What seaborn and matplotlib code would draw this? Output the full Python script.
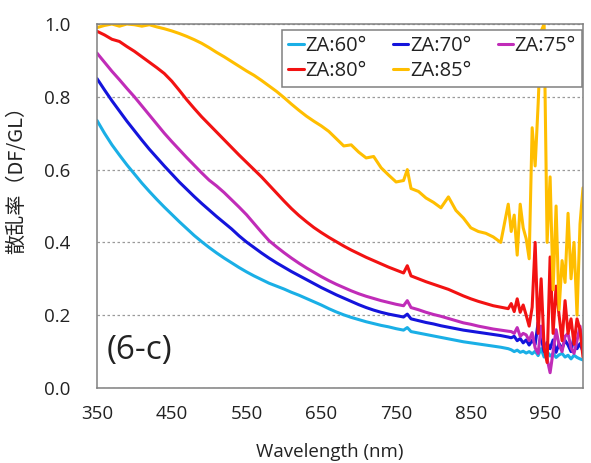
import numpy as np
import pandas as pd
import matplotlib
matplotlib.use("Agg")
import matplotlib.pyplot as plt
import seaborn as sns

# Wavelength grid (nm): 10 nm steps, an extra point at the 765 nm feature, 4 nm steps past 900 nm
wavelength = [350, 360, 370, 380, 390, 400, 410, 420, 430, 440,
              450, 460, 470, 480, 490, 500, 510, 520, 530, 540,
              550, 560, 570, 580, 590, 600, 610, 620, 630, 640,
              650, 660, 670, 680, 690, 700, 710, 720, 730, 740,
              750, 760, 765, 770, 780, 790, 800, 810, 820, 830,
              840, 850, 860, 870, 880, 890, 900,
              904, 908, 912, 916, 920, 924, 928, 932, 936, 940,
              944, 948, 952, 956, 960, 964, 968, 972, 976, 980,
              984, 988, 992, 996, 1000]

series_names = ["ZA:60°", "ZA:70°", "ZA:75°", "ZA:80°", "ZA:85°"]

za60 = [0.735, 0.700, 0.668, 0.640, 0.613, 0.588, 0.563, 0.540, 0.518, 0.497,
        0.477, 0.457, 0.438, 0.419, 0.402, 0.386, 0.371, 0.357, 0.344, 0.331,
        0.319, 0.308, 0.298, 0.288, 0.280, 0.272, 0.263, 0.255, 0.246, 0.237,
        0.228, 0.218, 0.209, 0.201, 0.194, 0.188, 0.182, 0.177, 0.172, 0.168,
        0.163, 0.159, 0.166, 0.155, 0.151, 0.147, 0.143, 0.139, 0.135, 0.131,
        0.127, 0.124, 0.121, 0.118, 0.115, 0.112, 0.108,
        0.105, 0.100, 0.104, 0.098, 0.101, 0.096, 0.100, 0.094, 0.101, 0.089,
        0.108, 0.085, 0.100, 0.088, 0.095, 0.084, 0.091, 0.095, 0.085, 0.090,
        0.080, 0.090, 0.084, 0.080, 0.077]

za70 = [0.850, 0.819, 0.789, 0.761, 0.733, 0.707, 0.681, 0.656, 0.633, 0.610,
        0.588, 0.566, 0.546, 0.526, 0.507, 0.489, 0.471, 0.454, 0.437, 0.418,
        0.401, 0.386, 0.371, 0.357, 0.344, 0.332, 0.320, 0.309, 0.298, 0.287,
        0.276, 0.266, 0.256, 0.247, 0.238, 0.229, 0.221, 0.214, 0.208, 0.203,
        0.199, 0.195, 0.203, 0.190, 0.185, 0.180, 0.176, 0.171, 0.167, 0.163,
        0.159, 0.156, 0.153, 0.150, 0.147, 0.144, 0.140,
        0.138, 0.142, 0.130, 0.136, 0.124, 0.132, 0.118, 0.131, 0.120, 0.180,
        0.138, 0.100, 0.125, 0.108, 0.132, 0.098, 0.122, 0.108, 0.131, 0.118,
        0.100, 0.142, 0.108, 0.122, 0.100]

za75 = [0.920, 0.895, 0.870, 0.847, 0.823, 0.800, 0.775, 0.750, 0.725, 0.700,
        0.677, 0.655, 0.633, 0.612, 0.591, 0.571, 0.555, 0.537, 0.517, 0.497,
        0.476, 0.452, 0.428, 0.405, 0.388, 0.372, 0.357, 0.343, 0.330, 0.318,
        0.306, 0.295, 0.285, 0.276, 0.267, 0.259, 0.252, 0.246, 0.240, 0.235,
        0.230, 0.226, 0.240, 0.221, 0.215, 0.208, 0.202, 0.197, 0.191, 0.185,
        0.179, 0.175, 0.170, 0.166, 0.162, 0.159, 0.156,
        0.155, 0.150, 0.166, 0.142, 0.150, 0.146, 0.130, 0.152, 0.110, 0.095,
        0.170, 0.120, 0.080, 0.042, 0.100, 0.160, 0.118, 0.100, 0.142, 0.150,
        0.110, 0.095, 0.130, 0.170, 0.100]

za80 = [0.980, 0.970, 0.958, 0.952, 0.938, 0.925, 0.910, 0.895, 0.880, 0.864,
        0.843, 0.818, 0.792, 0.768, 0.745, 0.724, 0.703, 0.682, 0.661, 0.640,
        0.620, 0.600, 0.580, 0.558, 0.536, 0.514, 0.493, 0.474, 0.457, 0.441,
        0.427, 0.414, 0.402, 0.390, 0.379, 0.369, 0.359, 0.350, 0.341, 0.332,
        0.324, 0.316, 0.336, 0.308, 0.300, 0.292, 0.285, 0.278, 0.271, 0.262,
        0.253, 0.245, 0.238, 0.232, 0.226, 0.222, 0.218,
        0.232, 0.210, 0.245, 0.208, 0.228, 0.200, 0.170, 0.222, 0.400, 0.150,
        0.300, 0.110, 0.070, 0.360, 0.150, 0.280, 0.200, 0.130, 0.240, 0.150,
        0.190, 0.120, 0.190, 0.160, 0.085]

za85 = [0.990, 0.996, 1.000, 0.994, 1.000, 0.998, 0.994, 0.998, 0.992, 0.987,
        0.981, 0.974, 0.966, 0.957, 0.947, 0.935, 0.922, 0.910, 0.897, 0.884,
        0.871, 0.859, 0.845, 0.830, 0.815, 0.798, 0.780, 0.763, 0.747, 0.733,
        0.720, 0.705, 0.685, 0.665, 0.668, 0.648, 0.632, 0.636, 0.605, 0.585,
        0.566, 0.570, 0.600, 0.548, 0.540, 0.522, 0.510, 0.495, 0.525, 0.488,
        0.467, 0.440, 0.430, 0.425, 0.415, 0.400, 0.505,
        0.430, 0.475, 0.365, 0.505, 0.440, 0.410, 0.355, 0.715, 0.610, 0.780,
        0.980, 1.000, 0.400, 0.580, 0.270, 0.500, 0.215, 0.350, 0.290, 0.480,
        0.300, 0.400, 0.200, 0.450, 0.550]

colors = ["#1AAFE6", "#1414DC", "#C02CB8", "#F21212", "#FFBE00"]

x_ticks = [350, 450, 550, 650, 750, 850, 950]
y_ticks = [0.0, 0.2, 0.4, 0.6, 0.8, 1.0]

df = pd.concat(
    [pd.DataFrame({"wavelength": wavelength, "ratio": vals, "series": name})
     for name, vals in zip(series_names, [za60, za70, za75, za80, za85])],
    ignore_index=True,
)

sns.set_theme(style="white")
plt.rcParams["font.family"] = ["Open Sans", "Noto Sans CJK JP", "DejaVu Sans"]

W, H = 591, 463
fig = plt.figure(figsize=(W / 100, H / 100), dpi=100)
L, R, T, B = 97, 583, 24, 388
ax = fig.add_axes([L / W, 1 - B / H, (R - L) / W, (B - T) / H])

sns.lineplot(data=df, x="wavelength", y="ratio", hue="series",
             hue_order=series_names, palette=colors, linewidth=2.2,
             estimator=None, sort=False, ax=ax)

ax.set_xlim(350, 1000)
ax.set_ylim(0, 1.0)
ax.set_xticks(x_ticks)
ax.set_xticks([400, 500, 600, 700, 800, 900, 1000], minor=True)
ax.set_yticks(y_ticks)
ax.set_yticklabels([f"{v:.1f}" for v in y_ticks])

ax.tick_params(axis="x", which="both", direction="in", length=5, width=1,
               color="#808080", pad=12, labelsize=13.5, labelcolor="#222222")
ax.tick_params(axis="y", length=0, pad=19, labelsize=13.5, labelcolor="#222222")

for s in ax.spines.values():
    s.set_color("#808080")
    s.set_linewidth(1.1)

ax.yaxis.grid(True, color="#9a9a9a", linestyle=(0, (2, 2)), linewidth=0.9)
ax.xaxis.grid(False)
ax.set_axisbelow(True)

ax.set_xlabel("Wavelength (nm)", fontsize=13.5, color="#222222")
ax.xaxis.label.set_va("center")
ax.xaxis.set_label_coords((330 - L) / (R - L), (B - 452) / (B - T))

ax.set_ylabel("散乱率（DF/GL）", fontsize=14.5,
              family=["Noto Sans CJK JP", "DejaVu Sans"], color="#222222")
ax.yaxis.label.set_va("center")
ax.yaxis.set_label_coords((17 - L) / (R - L), (B - 175) / (B - T))

ax.text((107 - L) / (R - L), (B - 350) / (B - T), "(6-c)", transform=ax.transAxes,
        ha="left", va="center", fontsize=24, color="#222222")

handles, labels = ax.get_legend_handles_labels()
order = [0, 3, 1, 4, 2]
leg = ax.legend([handles[i] for i in order], [labels[i] for i in order],
                ncol=3, loc="upper right",
                bbox_to_anchor=((582 - L) / (R - L), (B - 30) / (B - T)),
                borderaxespad=0, frameon=True, fancybox=False, framealpha=1,
                edgecolor="#808080", fontsize=14.5, handlelength=0.75,
                handletextpad=0.1, columnspacing=1.3, labelspacing=0.25,
                borderpad=0.3)
leg.get_frame().set_linewidth(1.1)
for t in leg.get_texts():
    t.set_color("#222222")

fig.savefig("out.png", dpi=100)
